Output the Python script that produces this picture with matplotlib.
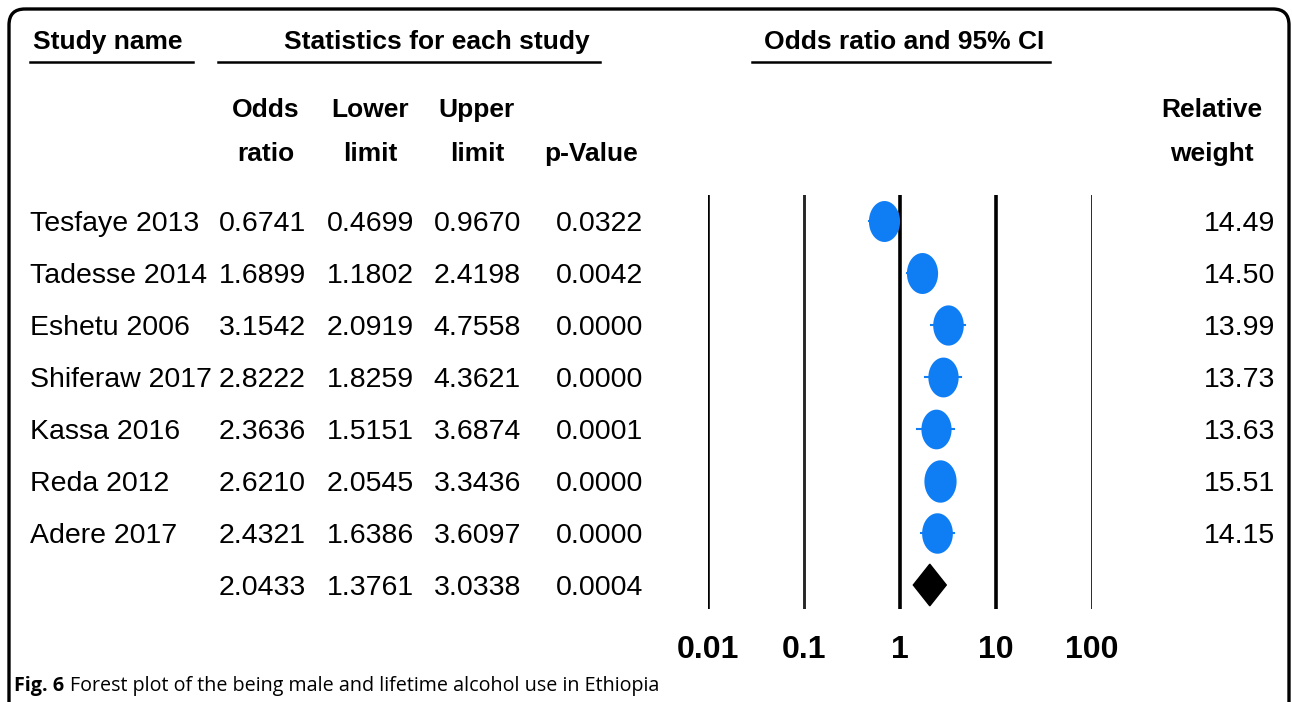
import numpy as np
import matplotlib
matplotlib.use("Agg")
import matplotlib.pyplot as plt
from matplotlib import font_manager
from matplotlib.patches import FancyBboxPatch, Polygon

# data
studies = ["Tesfaye 2013", "Tadesse 2014", "Eshetu 2006", "Shiferaw 2017",
           "Kassa 2016", "Reda 2012", "Adere 2017"]
odds = [0.6741, 1.6899, 3.1542, 2.8222, 2.3636, 2.6210, 2.4321]
lower = [0.4699, 1.1802, 2.0919, 1.8259, 1.5151, 2.0545, 1.6386]
upper = [0.9670, 2.4198, 4.7558, 4.3621, 3.6874, 3.3436, 3.6097]
pvals = ["0.0322", "0.0042", "0.0000", "0.0000", "0.0001", "0.0000", "0.0000"]
weights = ["14.49", "14.50", "13.99", "13.73", "13.63", "15.51", "14.15"]
pooled = [2.0433, 1.3761, 3.0338]
pooled_p = "0.0004"
ticks = [0.01, 0.1, 1, 10, 100]
tick_labels = ["0.01", "0.1", "1", "10", "100"]

names = {f.name for f in font_manager.fontManager.ttflist}
main_font = "Liberation Sans"
cap_font = "Open Sans" if "Open Sans" in names else "DejaVu Sans"

W, H = 1292, 702
fig = plt.figure(figsize=(W / 100, H / 100), dpi=100)

bg = fig.add_axes([0, 0, 1, 1])
bg.set_xlim(0, W)
bg.set_ylim(H, 0)
bg.axis("off")

box = FancyBboxPatch((9, 9), 1280, 760, boxstyle="round,pad=0,rounding_size=16",
                     fill=False, lw=2.4, ec="black")
bg.add_patch(box)

row0, dy = 221, 52
fs = 20.5   # table text
hfs = 19    # header text


def put(x, yc, s, size, bold=False, ha="left"):
    # place text so that its cap height is centred on yc (pixels)
    base = yc + 0.358 * size * 100 / 72
    return bg.text(x, base, s, fontfamily=main_font, fontsize=size,
                   fontweight="bold" if bold else "normal", ha=ha, va="baseline")


# top headers
put(33, 40, "Study name", hfs, True)
bg.plot([30, 193], [62, 62], color="black", lw=1.8)
put(437, 40, "Statistics for each study", hfs, True, "center")
bg.plot([218, 600], [62, 62], color="black", lw=1.8)
put(904, 40, "Odds ratio and 95% CI", hfs, True, "center")
bg.plot([752, 1050], [62, 62], color="black", lw=1.8)

# column headers
for x, l1, l2 in [(266, "Odds", "ratio"), (370, "Lower", "limit"), (477, "Upper", "limit"),
                  (1212, "Relative", "weight")]:
    put(x, 108, l1, hfs, True, "center")
    put(x, 152, l2, hfs, True, "center")
put(591, 152, "p-Value", hfs, True, "center")

# table rows
col_right = [306, 414, 521, 643]
for i, name in enumerate(studies):
    y = row0 + dy * i
    put(30, y, name, fs)
    vals = [f"{odds[i]:.4f}", f"{lower[i]:.4f}", f"{upper[i]:.4f}", pvals[i]]
    for x, v in zip(col_right, vals):
        put(x, y, v, fs, ha="right")
    put(1275, y, weights[i], fs, ha="right")

y = row0 + dy * len(studies)
vals = [f"{pooled[0]:.4f}", f"{pooled[1]:.4f}", f"{pooled[2]:.4f}", pooled_p]
for x, v in zip(col_right, vals):
    put(x, y, v, fs, ha="right")

# caption: bold figure number, then the title
r = fig.canvas.get_renderer()
cfs = 14.2
t1 = bg.text(14, 686, "Fig. 6", fontfamily=cap_font, fontweight="bold", fontsize=cfs, va="center")
x1 = bg.transData.inverted().transform(t1.get_window_extent(r))[1][0]
bg.text(x1 + 6, 686, "Forest plot of the being male and lifetime alcohol use in Ethiopia",
        fontfamily=cap_font, fontsize=cfs, va="center")

# forest plot axes: 0.01 at x=708, 100 at x=1092, lines from y=195 to 609
top, bot = 195, 609
ax = fig.add_axes([708 / W, 1 - bot / H, 384 / W, (bot - top) / H])
ax.set_xscale("log")
ax.set_xlim(0.01, 100)
ax.set_ylim((bot - row0) / dy, (top - row0) / dy)
for s in ax.spines.values():
    s.set_visible(False)
ax.set_yticks([])
for t in ticks:
    thick = t in (0.01, 1, 10)
    ax.axvline(t, color="black" if thick else "#262626", lw=2.6 if thick else 2.1, zorder=1)

th = np.linspace(0, 2 * np.pi, 64)
ellipse = list(zip(0.76 * np.cos(th), np.sin(th)))
for i in range(len(studies)):
    ax.plot([lower[i], upper[i]], [i, i], color="#0f7ef5", lw=1.5, zorder=2, clip_on=False)
    ms = 29.5 * np.sqrt(float(weights[i]) / 14.5)
    ax.plot(odds[i], i, marker=ellipse, ms=ms, color="#0f7ef5", mec="none",
            zorder=3, clip_on=False)

k = len(studies)
diamond = Polygon([(pooled[1], k), (pooled[0], k - 0.4), (pooled[2], k), (pooled[0], k + 0.4)],
                  closed=True, fc="black", ec="black", zorder=3, clip_on=False)
ax.add_patch(diamond)

ax.set_xticks(ticks)
ax.set_xticklabels(tick_labels, fontfamily=main_font, fontweight="bold", fontsize=23)
ax.minorticks_off()
ax.tick_params(axis="x", length=0, pad=19)

fig.savefig("out.png", dpi=100)
